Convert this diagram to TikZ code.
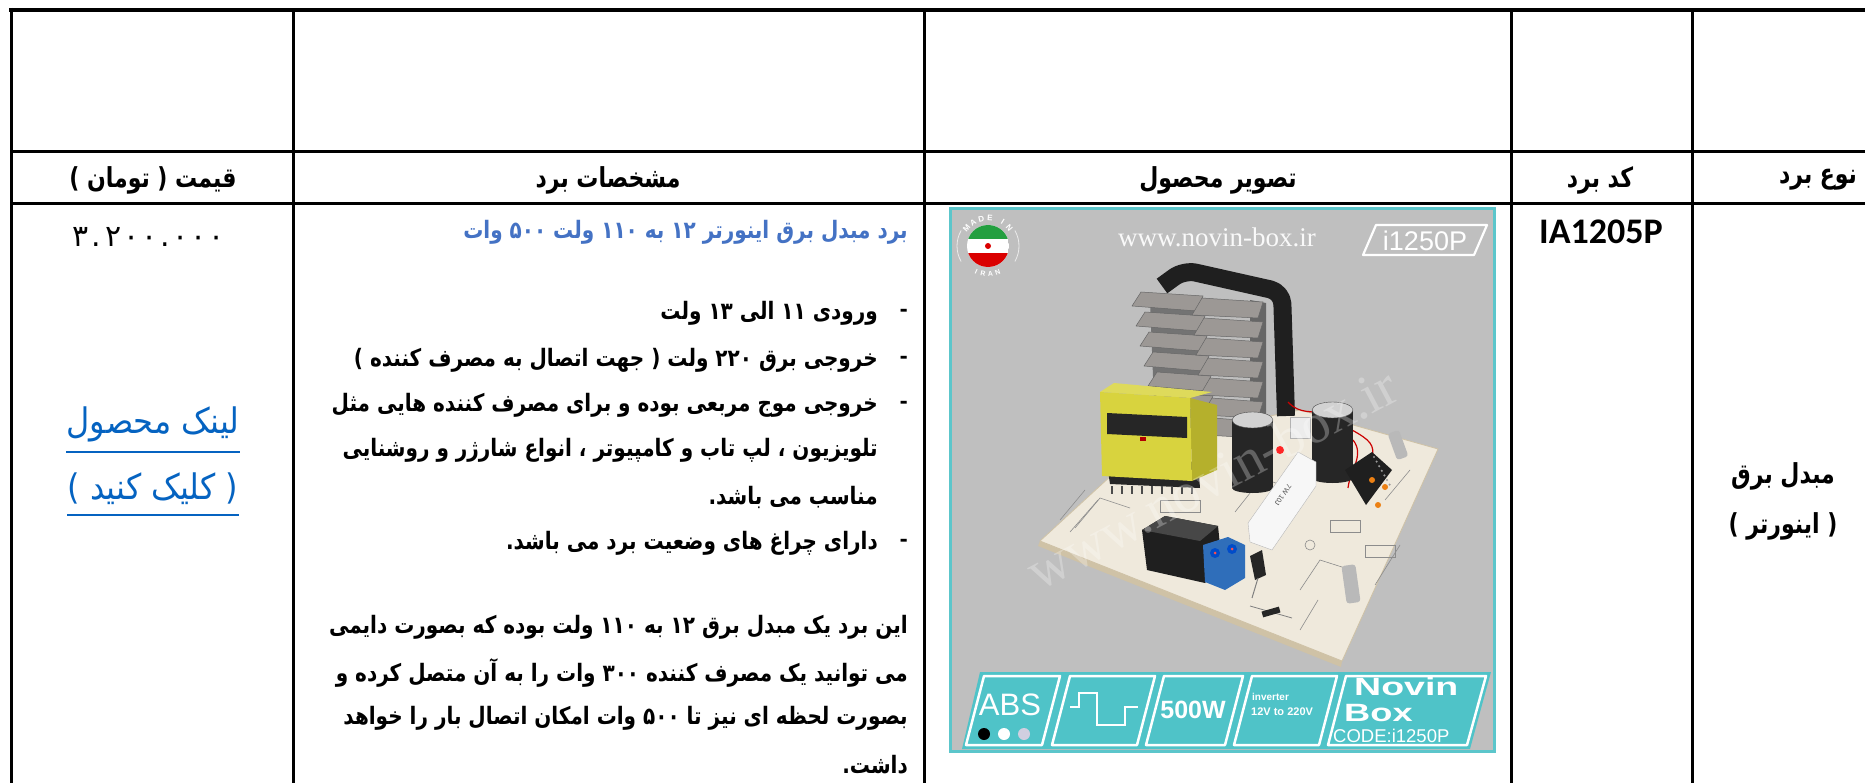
\documentclass[tikz,border=0pt]{standalone}
\usepackage{fontspec}
\TeXXeTstate=1
\newfontfamily\fa[Script=Arabic]{DejaVu Sans}
\newfontfamily\calib{Carlito}
\newfontfamily\libsans{Liberation Sans}
\newfontfamily\libserif{Liberation Serif}
\definecolor{titleblue}{HTML}{4472C4}
\definecolor{linkblue}{HTML}{0563C1}
\definecolor{frameteal}{HTML}{5CC6CB}
\definecolor{badgeteal}{HTML}{4FC3C8}
\definecolor{photogray}{HTML}{BFBFBF}
\definecolor{boardtop}{HTML}{EFE9DC}
\definecolor{boardedge}{HTML}{CFC2A6}
\definecolor{finsgray}{HTML}{9C9895}
\definecolor{tyellow}{HTML}{D8D33E}
\definecolor{tyellowside}{HTML}{B5B02C}
\definecolor{irgreen}{HTML}{239F40}
\definecolor{irred}{HTML}{DA0000}
\definecolor{termblue}{HTML}{2F6EBA}
\definecolor{dotlav}{HTML}{D0CFE0}
\tikzset{
  tablerule/.style={line width=3pt, black},
  hdr/.style={font=\fa\bfseries\fontsize{22}{26}\selectfont, inner sep=0pt},
  spec/.style={font=\fa\bfseries\fontsize{20}{24}\selectfont, inner sep=0pt, anchor=east},
  linktxt/.style={font=\fa\fontsize{32}{36}\selectfont, inner sep=0pt, text=linkblue},
  badgeline/.style={draw=white, line width=2.5pt, line join=round},
  wtext/.style={text=white, inner sep=0pt},
}
\begin{document}
\begin{tikzpicture}[x=1pt,y=-1pt]
\useasboundingbox (0,0) rectangle (1865,783);
\fill[white] (0,0) rectangle (1865,783);

% ---------------- photo ----------------
\fill[photogray] (950,209) rectangle (1494,751);

% board
\fill[boardedge] (1040,541) -- (1342,661) -- (1341,667) -- (1038,546) -- cycle;
\fill[boardtop, draw=boardedge, line width=0.8pt] (1040,541) -- (1342,661) -- (1438,449) -- (1300,410) -- (1150,440) -- cycle;
\begin{scope}[black!45, line width=0.6pt]
  \draw (1075,528) -- (1100,498) -- (1130,508);
  \draw (1160,500) rectangle (1200,512);
  \draw (1235,512) -- (1262,478) -- (1300,492);
  \draw (1300,590) -- (1320,560) -- (1345,568);
  \draw (1330,520) rectangle (1360,532);
  \draw (1365,545) rectangle (1395,557);
  \draw (1385,500) -- (1410,470);
  \draw (1300,630) -- (1318,600);
  \draw (1310,545) circle (5pt);
  \draw (1375,585) -- (1400,545);
  \draw (1060,520) -- (1085,490);
  \draw (1070,532) -- (1098,500);
\end{scope}

% black bracket (fan)
\draw[black!88, line width=18pt, line join=round, rounded corners=12pt] (1162,286) -- (1184,270) -- (1282,292) -- (1286,416);
% heatsink bodies
\fill[black!55] (1150,300) -- (1200,300) -- (1205,428) -- (1155,428) -- cycle;
\fill[black!60] (1250,300) -- (1266,303) -- (1266,445) -- (1250,445) -- cycle;
\foreach \i in {0,...,5}{
  \fill[finsgray, draw=black!60, line width=0.5pt] ({1132+4*\i},{306+20*\i}) -- ({1141+4*\i},{292+20*\i}) -- ({1203+2*\i},{296+20*\i}) -- ({1197+2*\i},{311+20*\i}) -- cycle;
}
\foreach \j in {0,...,6}{
  \fill[finsgray, draw=black!60, line width=0.5pt] ({1192+2*\j},{315+20*\j}) -- ({1202+2*\j},{298+20*\j}) -- (1263,{302+20*\j}) -- (1258,{318+20*\j}) -- cycle;
}
% red wires
\draw[red!80!black, line width=1.2pt] (1288,402) .. controls (1300,415) and (1312,410) .. (1328,414);
\draw[red!80!black, line width=1.2pt] (1352,430) .. controls (1370,440) and (1375,445) .. (1372,458);
\draw[red!80!black, line width=1.2pt] (1353,440) .. controls (1365,455) and (1350,470) .. (1348,488);
% white tab
\fill[white!85!gray, draw=gray!60] (1290,417) rectangle (1310,438);
% transformer
\fill[black!85] (1106,458) -- (1198,462) -- (1200,488) -- (1110,484) -- cycle;
\foreach \k in {0,...,8}{\draw[black!70, line width=1.5pt] ({1112+10*\k},486) -- ({1112+10*\k},494);}
\fill[tyellowside] (1190,398) -- (1217,405) -- (1217,470) -- (1192,481) -- cycle;
\fill[tyellow!85!white] (1100,392) -- (1114,383) -- (1212,392) -- (1190,398) -- cycle;
\fill[tyellow] (1100,392) -- (1190,398) -- (1192,481) -- (1102,476) -- cycle;
\fill[black!85] (1107,413) -- (1187,417) -- (1187,438) -- (1107,434) -- cycle;
\fill[red!70!black] (1140,437) rectangle (1146,441);
% capacitors
\fill[black!85] (1232,420) rectangle (1273,488);
\fill[black!85] (1252.5,488) ellipse (20.5pt and 5pt);
\fill[gray!35, draw=black!70] (1252.5,420) ellipse (20.5pt and 8pt);
\fill[black!85] (1312,410) rectangle (1353,478);
\fill[black!85] (1332.5,478) ellipse (20.5pt and 5pt);
\fill[gray!35, draw=black!70] (1332.5,410) ellipse (20.5pt and 8pt);
% LED
\fill[red!85] (1280,450) circle (4pt);
% ceramic resistor
\fill[white!94!gray, draw=gray!55] (1248,523) -- (1298,452) -- (1316,462) -- (1316,486) -- (1272,550) -- (1250,542) -- cycle;
\node[font=\libsans\fontsize{7}{7}\selectfont, text=black!70, rotate=-125] (restxt) at (1283,495) {7W 10J};
% relay
\fill[black!88] (1142,530) -- (1165,516) -- (1218,526) -- (1222,565) -- (1205,583) -- (1147,570) -- cycle;
\fill[black!72] (1142,530) -- (1165,516) -- (1218,526) -- (1200,541) -- cycle;
% terminal block
\fill[termblue] (1203,545) -- (1228,537) -- (1245,545) -- (1245,578) -- (1225,590) -- (1205,582) -- cycle;
\fill[black!30!blue!70!cyan] (1215,553) circle (5pt);
\fill[black!30!blue!70!cyan] (1232,549) circle (5pt);
\fill[red!70] (1215,553) circle (1.5pt);
\fill[red!70] (1232,549) circle (1.5pt);
% transistor
\fill[black!85] (1250,556) -- (1262,550) -- (1266,575) -- (1255,580) -- cycle;
\draw[gray, line width=1pt] (1258,578) -- (1252,598);
% IC
\fill[black!88] (1345,470) -- (1372,452) -- (1392,470) -- (1366,505) -- cycle;
\foreach \p in {0,...,6}{\fill[gray!80] ({1374+2.6*\p},{457+4.6*\p}) circle (1.2pt);}
% small parts
\node[fill=gray!55, rounded corners=3pt, minimum width=12pt, minimum height=28pt, rotate=20, inner sep=0pt] (gc1) at (1398,445) {};
\node[fill=gray!55, rounded corners=3pt, minimum width=14pt, minimum height=38pt, rotate=8, inner sep=0pt] (gc2) at (1351,584) {};
\fill[orange!70!brown] (1372,480) circle (3pt);
\fill[orange!70!brown] (1385,487) circle (3pt);
\fill[orange!70!brown] (1378,505) circle (3pt);
\draw[gray, line width=0.8pt] (1250,606) -- (1292,618);
\fill[black!85, rotate around={16:(1271,612)}] (1262,609) rectangle (1280,615);

% watermark
\node[font=\libserif\fontsize{56}{56}\selectfont, text=white, opacity=0.28, rotate=28] (wm) at (1212,478) {www.novin-box.ir};

% Made in Iran badge
\begin{scope}
  \clip (988,246) circle (21pt);
  \fill[white] (967,225) rectangle (1009,267);
  \fill[irgreen] (967,225) rectangle (1009,239);
  \fill[irred] (967,253) rectangle (1009,267);
\end{scope}
\fill[irred] (988,246) circle (3pt);
\draw[white!85!gray, line width=0.8pt] (988,246) ++(150:31pt) arc (150:210:31pt);
\draw[white!85!gray, line width=0.8pt] (988,246) ++(-30:31pt) arc (-30:30:31pt);
\foreach \c/\a in {M/140,A/122,D/104,E/86,I/58,N/40}{
  \node[font=\libsans\bfseries\fontsize{8}{8}\selectfont, text=white, rotate=\a-90, inner sep=0pt] at ([shift={(\a:28pt)}]988,246) {\c};
}
\foreach \c/\a in {I/245,R/260,A/275,N/290}{
  \node[font=\libsans\bfseries\fontsize{7}{7}\selectfont, text=white, rotate=\a+90, inner sep=0pt] at ([shift={(\a:28pt)}]988,246) {\c};
}

% website text and code tag
\node[font=\libserif\fontsize{27}{27}\selectfont, text=white!95!gray, inner sep=0pt] (www) at (1217,237) {www.novin-box.ir};
\draw[white, line width=2.2pt, line join=round] (1363,255) -- (1376,225) -- (1487,225) -- (1474,255) -- cycle;
\node[font=\libsans\fontsize{27}{27}\selectfont, wtext] (tag) at (1425,241) {i1250P};

% bottom badges
\fill[badgeteal] (962,749) -- (980,672) -- (1491,672) -- (1470,749) -- cycle;
\draw[badgeline] (966,745) -- (984,676) -- (1060,676) -- (1042,745) -- cycle;
\draw[badgeline] (1052,745) -- (1070,676) -- (1155,676) -- (1137,745) -- cycle;
\draw[badgeline] (1146,745) -- (1164,676) -- (1243,676) -- (1225,745) -- cycle;
\draw[badgeline] (1234,745) -- (1252,676) -- (1337,676) -- (1319,745) -- cycle;
\draw[badgeline] (1328,745) -- (1346,676) -- (1486,676) -- (1467,745) -- cycle;
\node[font=\libsans\fontsize{31}{31}\selectfont, wtext] (abs) at (1010,705) {ABS};
\fill[black] (984,734) circle (6pt);
\fill[white] (1004,734) circle (6pt);
\fill[dotlav] (1024,734) circle (6pt);
\draw[white, line width=2.5pt, line join=miter] (1070,707) -- (1079,707) -- (1079,693) -- (1097,693) -- (1097,725) -- (1125,725) -- (1125,707) -- (1138,707);
\node[font=\libsans\bfseries\fontsize{25}{25}\selectfont, wtext] (w500) at (1193,710) {500W};
\node[font=\libsans\bfseries\fontsize{10}{10}\selectfont, wtext, anchor=west] (inv1) at (1252,697) {inverter};
\node[font=\libsans\bfseries\fontsize{11}{11}\selectfont, wtext, anchor=west] (inv2) at (1251,712) {12V to 220V};
\node[font=\libsans\bfseries\fontsize{25}{25}\selectfont, wtext, anchor=west] (novin) at (1354,687) {\scalebox{1.5}[1]{Novin}};
\node[font=\libsans\bfseries\fontsize{25}{25}\selectfont, wtext, anchor=west] (box) at (1344,713) {\scalebox{1.45}[1]{Box}};
\node[font=\libsans\fontsize{18.5}{18.5}\selectfont, wtext, anchor=west] (code2) at (1333,736) {CODE:i1250P};

\draw[frameteal, line width=3pt] (950,209) rectangle (1494,751);

% ---------------- table ----------------
\draw[line width=4pt] (9,10) -- (1865,10);
\draw[tablerule] (11,8) -- (11,783);
\foreach \x in {293,924,1511,1692}{\draw[tablerule] (\x,10) -- (\x,783);}
\draw[tablerule] (11,152) -- (1865,152);
\draw[tablerule] (11,204) -- (1865,204);

% headers
\node[hdr] (h1) at (153,180) {\scalebox{1}[1.25]{\beginR قیمت ( تومان )\endR}};
\node[hdr] (h2) at (608,180) {\scalebox{1}[1.25]{\beginR مشخصات برد\endR}};
\node[hdr] (h3) at (1218,180) {\scalebox{1}[1.25]{\beginR تصویر محصول\endR}};
\node[hdr] (h4) at (1600,180) {\scalebox{1}[1.25]{\beginR کد برد\endR}};
\node[hdr] (h5) at (1818,180) {\scalebox{1}[1.25]{\beginR نوع برد\endR}};

% row content
\node[font=\fa\fontsize{30}{34}\selectfont, inner sep=0pt] (price) at (149.5,237) {\makebox[15.5pt]{۳}\makebox[15.5pt]{.}\makebox[18.5pt]{۲}\makebox[18.5pt]{۰}\makebox[16.5pt]{۰}\makebox[15pt]{.}\makebox[16.5pt]{۰}\makebox[18.5pt]{۰}\makebox[18.5pt]{۰}};
\node[linktxt] (lk1) at (153,424) {\scalebox{1}[1.1]{\beginR لینک محصول\endR}};
\node[linktxt] (lk2) at (153,489) {\scalebox{1}[1.1]{\beginR ( کلیک کنید )\endR}};
\draw[linkblue, line width=1.6pt] (lk1.west |- {(0,452)}) -- (lk1.east |- {(0,452)});
\draw[linkblue, line width=1.6pt] (lk2.west |- {(0,515)}) -- (lk2.east |- {(0,515)});

\node[spec, text=titleblue] (s1) at (908,232) {\scalebox{1}[1.2]{\beginR برد مبدل برق اینورتر ۱۲ به ۱۱۰ ولت ۵۰۰ وات\endR}};
\node[spec] (b2) at (908,313) {-};
\node[spec] (s2) at (878,313) {\scalebox{1}[1.2]{\beginR ورودی ۱۱ الی ۱۳ ولت\endR}};
\node[spec] (b3) at (908,360) {-};
\node[spec] (s3) at (878,360) {\scalebox{1}[1.2]{\beginR خروجی برق ۲۲۰ ولت ( جهت اتصال به مصرف کننده )\endR}};
\node[spec] (b4) at (908,405) {-};
\node[spec] (s4) at (878,405) {\scalebox{1}[1.2]{\beginR خروجی موج مربعی بوده و برای مصرف کننده هایی مثل\endR}};
\node[spec] (s5) at (878,450) {\scalebox{1}[1.2]{\beginR تلویزیون ، لپ تاب و کامپیوتر ، انواع شارژر و روشنایی\endR}};
\node[spec] (s6) at (878,497) {\scalebox{1}[1.2]{\beginR مناسب می باشد.\endR}};
\node[spec] (b7) at (908,543) {-};
\node[spec] (s7) at (878,543) {\scalebox{1}[1.2]{\beginR دارای چراغ های وضعیت برد می باشد.\endR}};
\node[spec] (p1) at (908,627) {\scalebox{1}[1.2]{\beginR این برد یک مبدل برق ۱۲ به ۱۱۰ ولت بوده که بصورت دایمی\endR}};
\node[spec] (p2) at (908,673) {\scalebox{1}[1.2]{\beginR می توانید یک مصرف کننده ۳۰۰ وات را به آن متصل کرده و\endR}};
\node[spec] (p3) at (908,718) {\scalebox{1}[1.2]{\beginR بصورت لحظه ای نیز تا ۵۰۰ وات امکان اتصال بار را خواهد\endR}};
\node[spec] (p4) at (908,765) {\scalebox{1}[1.2]{\beginR داشت.\endR}};

\node[font=\calib\bfseries\fontsize{36}{40}\selectfont, inner sep=0pt] (code) at (1601,232) {IA1205P};
\node[hdr] (t1) at (1783,476) {\scalebox{1}[1.25]{\beginR مبدل برق\endR}};
\node[hdr] (t2) at (1783,526) {\scalebox{1}[1.25]{\beginR ( اینورتر )\endR}};
\end{tikzpicture}
\end{document}
